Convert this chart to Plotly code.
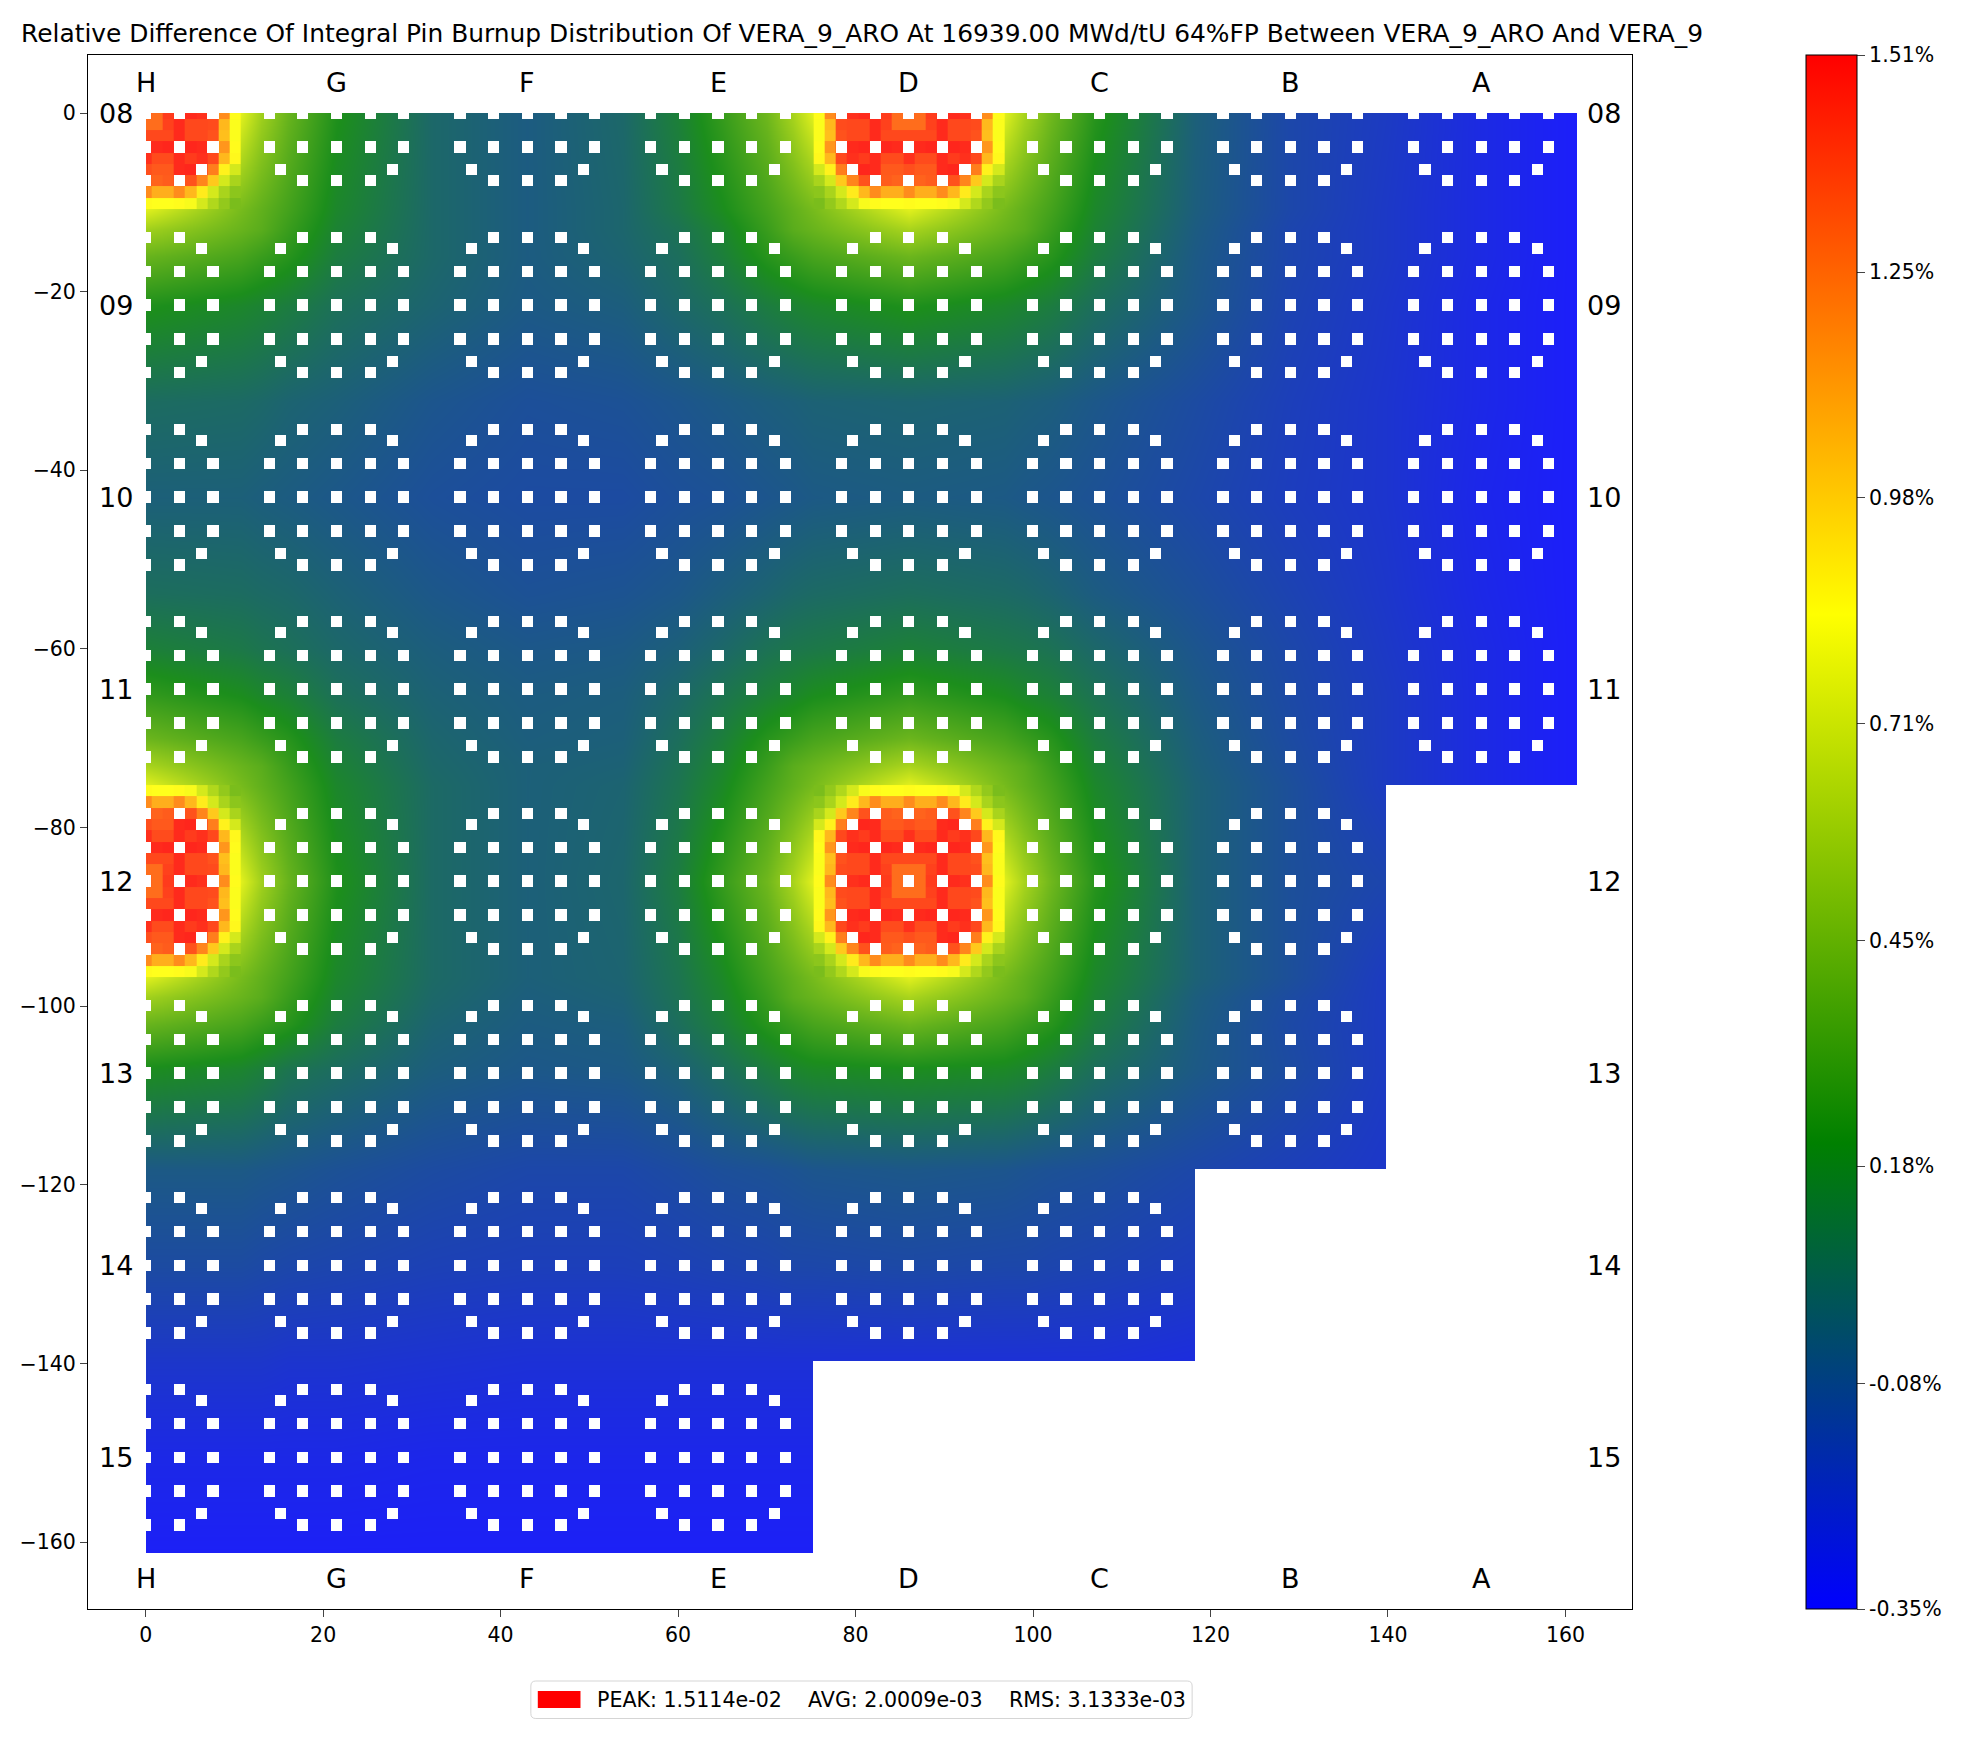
import numpy as np
import plotly.graph_objects as go

TITLE = "Relative Difference Of Integral Pin Burnup Distribution Of VERA_9_ARO At 16939.00 MWd/tU 64%FP Between VERA_9_ARO And VERA_9"
COLUMN_LABELS = ["H", "G", "F", "E", "D", "C", "B", "A"]
ROW_LABELS = ["08", "09", "10", "11", "12", "13", "14", "15"]
# how many assemblies wide the core is on each row
ROW_WIDTHS = [7.5, 7.5, 7.5, 7.5, 6.5, 6.5, 5.5, 3.5]
HOT_ASSEMBLIES = [(0, 0), (4, 0), (0, 4), (4, 4)]

CBAR_TICKS = [-0.35, -0.08, 0.18, 0.45, 0.71, 0.98, 1.25, 1.51]
CBAR_LABELS = ["-0.35%", "-0.08%", "0.18%", "0.45%", "0.71%", "0.98%", "1.25%", "1.51%"]

ASSEMBLY_PITCH = 21.5
PINS_PER_ASSEMBLY = 17
PIN_COUNT = 128

# guide tube offsets from an assembly centre, by row offset
GUIDE_TUBES = {
    -6: [-3, 0, 3],
    -5: [-5, 5],
    -3: [-6, -3, 0, 3, 6],
    0: [-6, -3, 0, 3, 6],
    3: [-6, -3, 0, 3, 6],
    5: [-5, 5],
    6: [-3, 0, 3],
}

# background field, percent
NODES = [0, 10.75, 13, 16, 21.5, 32.25, 43, 53.75, 60, 65, 70, 73, 75.25, 86, 96.75, 99, 102, 107, 118.25, 129, 139.75,
         150.5, 161.25]
FIELD = [
    [1.4, .76, .58, .42, .22, .02, -.04, .02, .14, .28, .44, .6, .76, 1.4, .76, .6, .44, .24, -.02, -.14, -.2, -.28, -.34],
    [.76, .46, .4, .32, .17, .02, -.04, .01, .1, .2, .32, .4, .46, .76, .46, .4, .32, .17, -.03, -.14, -.21, -.28, -.34],
    [.58, .42, .38, .29, .15, .02, -.04, .01, .07, .16, .29, .38, .42, .6, .42, .38, .29, .15, -.04, -.15, -.21, -.28, -.34],
    [.42, .33, .29, .24, .12, .02, -.04, 0, .05, .13, .24, .29, .33, .43, .33, .29, .24, .12, -.05, -.15, -.21, -.28, -.34],
    [.22, .17, .15, .12, .06, 0, -.05, -.03, .02, .06, .12, .15, .17, .22, .17, .15, .12, .05, -.06, -.16, -.22, -.29, -.34],
    [.04, .03, .02, 0, -.02, -.07, -.1, -.09, -.07, -.05, -.03, -.02, -.01, 0, -.01, -.02, -.03, -.06, -.12, -.18, -.23, -.29, -.34],
    [-.02, -.02, -.03, -.04, -.06, -.1, -.12, -.12, -.1, -.09, -.07, -.06, -.05, -.04, -.05, -.06, -.07, -.09, -.14, -.19, -.23, -.3, -.34],
    [.05, .04, .03, .02, -.01, -.06, -.09, -.08, -.06, -.03, 0, .02, .03, .05, .03, .02, 0, -.04, -.1, -.16, -.22, -.29, -.34],
    [.14, .1, .08, .06, .02, -.03, -.06, -.05, -.02, .02, .07, .09, .1, .14, .1, .09, .07, .02, -.07, -.14, -.21, -.28, -.34],
    [.27, .2, .17, .14, .06, -.01, -.04, -.03, .02, .08, .14, .17, .2, .27, .2, .17, .14, .07, -.05, -.13, -.2, -.28, -.34],
    [.43, .33, .29, .24, .12, .01, -.03, -.02, .05, .13, .24, .29, .33, .43, .33, .29, .24, .12, -.03, -.12, -.2, -.28, -.34],
    [.6, .42, .38, .29, .15, .02, -.02, -.01, .07, .16, .29, .38, .42, .6, .42, .38, .29, .15, -.02, -.11, -.2, -.28, -.34],
    [.76, .46, .4, .32, .17, .03, -.02, 0, .08, .18, .32, .4, .46, .76, .46, .4, .32, .17, -.01, -.1, -.2, -.28, -.34],
    [1.4, .76, .58, .42, .22, .03, -.02, .01, .12, .28, .44, .6, .76, 1.4, .76, .6, .44, .24, -.01, -.1, -.15, -.25, -.3],
    [.76, .46, .4, .32, .17, .03, -.02, 0, .08, .18, .32, .4, .46, .76, .46, .4, .32, .17, -.01, -.1, -.2, -.28, -.34],
    [.58, .42, .38, .29, .15, .02, -.03, -.01, .07, .16, .29, .38, .42, .6, .42, .38, .29, .15, -.03, -.12, -.2, -.28, -.34],
    [.42, .33, .29, .24, .12, .0, -.04, -.03, .05, .13, .24, .29, .33, .43, .33, .29, .24, .12, -.04, -.13, -.2, -.28, -.34],
    [.2, .16, .13, .08, .04, -.03, -.06, -.05, -.01, .05, .12, .16, .18, .2, .18, .16, .12, .05, -.05, -.12, -.2, -.28, -.34],
    [-.05, -.05, -.06, -.07, -.09, -.12, -.14, -.14, -.12, -.1, -.09, -.08, -.07, -.06, -.07, -.08, -.09, -.1, -.14, -.18, -.22, -.28, -.34],
    [-.12, -.12, -.13, -.14, -.15, -.17, -.18, -.18, -.17, -.16, -.15, -.14, -.14, -.13, -.14, -.14, -.15, -.16, -.19, -.22, -.25, -.28, -.34],
    [-.22, -.22, -.22, -.23, -.23, -.24, -.25, -.25, -.25, -.25, -.25, -.25, -.25, -.25, -.25, -.25, -.25, -.25, -.27, -.28, -.3, -.32, -.34],
    [-.29, -.29, -.29, -.29, -.29, -.3, -.3, -.3, -.3, -.3, -.3, -.3, -.3, -.3, -.3, -.3, -.3, -.3, -.31, -.32, -.32, -.33, -.34],
    [-.33, -.33, -.33, -.33, -.33, -.33, -.33, -.33, -.33, -.33, -.33, -.33, -.33, -.33, -.33, -.33, -.33, -.33, -.33, -.34, -.34, -.34, -.35],
]

# pin values of one quarter of a rodded assembly, centre at top left, percent
HOT_QUADRANT = [
    [1.30, 1.27, 1.42, 1.47, 1.47, 1.45, 1.40, 1.18, .85],
    [1.27, 1.27, 1.40, 1.47, 1.38, 1.38, 1.37, 1.05, .83],
    [1.38, 1.38, 1.38, 1.47, 1.38, 1.38, 1.35, 1.03, .83],
    [1.47, 1.47, 1.48, 1.47, 1.48, 1.47, 1.40, 1.15, .85],
    [1.45, 1.37, 1.37, 1.47, 1.42, 1.45, 1.38, 1.05, .86],
    [1.36, 1.33, 1.33, 1.47, 1.48, 1.40, 1.22, .88, .72],
    [1.32, 1.30, 1.32, 1.40, 1.35, 1.20, 1.00, .72, .60],
    [1.18, 1.08, 1.08, 1.18, 1.05, .90, .72, .60, .52],
    [.85, .84, .84, .85, .82, .72, .62, .54, .47],
]

COLOR_STOPS = [0, 0.3, 0.64, 1]
COLORS = [(0, 0, 255), (0, 128, 0), (255, 255, 0), (255, 0, 0)]
# the map itself is drawn slightly see-through on white, the colorbar is not
MAP_ALPHA = 0.89

PIN_PITCH = ASSEMBLY_PITCH / PINS_PER_ASSEMBLY
X_RANGE = [-6.5, 167.5]
Y_RANGE = [-167.5, 6.5]

# one page margin in the browser, all pixel positions below are of the whole page
PAGE_MARGIN = 8
FIG_W = 1962 - 2 * PAGE_MARGIN
FIG_H = 1758 - 2 * PAGE_MARGIN
AX_LEFT, AX_RIGHT, AX_TOP, AX_BOTTOM = 84, 1639, 55, 1609


def px_x(x):
    return (x - AX_LEFT) / (AX_RIGHT - AX_LEFT)


def px_y(y):
    return (AX_BOTTOM - y) / (AX_BOTTOM - AX_TOP)


def round_box(x0, y0, x1, y1, r):
    # rounded rectangle as a paper path, arguments in page pixels
    pts = [("M", x0 + r, y0), ("L", x1 - r, y0), ("Q", x1, y0, x1, y0 + r), ("L", x1, y1 - r), ("Q", x1, y1, x1 - r, y1),
           ("L", x0 + r, y1), ("Q", x0, y1, x0, y1 - r), ("L", x0, y0 + r), ("Q", x0, y0, x0 + r, y0)]
    path = ""
    for p in pts:
        coords = [f"{px_x(p[i])},{px_y(p[i + 1])}" for i in range(1, len(p), 2)]
        path += p[0] + " ".join(coords) + " "
    return path + "Z"


solid_scale = [[s, f"rgb{c}"] for s, c in zip(COLOR_STOPS, COLORS)]
pale_scale = [[s, "rgb({},{},{})".format(*[MAP_ALPHA * v + (1 - MAP_ALPHA) * 255 for v in c])]
              for s, c in zip(COLOR_STOPS, COLORS)]

# cells are centred on the pins but the picture stops at the first pin centre
edges = (np.arange(PIN_COUNT + 1) - 0.5) * PIN_PITCH
edges[0] = 0

hot = np.full((PIN_COUNT, PIN_COUNT), np.nan)
quadrant = np.array(HOT_QUADRANT)
half = quadrant.shape[0] - 1
block = np.block([[quadrant[:0:-1, :0:-1], quadrant[:0:-1, :]], [quadrant[:, :0:-1], quadrant]])
for col, row in HOT_ASSEMBLIES:
    cx, cy = col * PINS_PER_ASSEMBLY, row * PINS_PER_ASSEMBLY
    for j in range(-half, half + 1):
        for i in range(-half, half + 1):
            if cx + i >= 0 and cy + j >= 0:
                hot[cy + j, cx + i] = block[j + half, i + half]

# white layer: guide tube holes and everything outside the core
mask = np.full((PIN_COUNT, PIN_COUNT), np.nan)
for row, width in enumerate(ROW_WIDTHS):
    cy = row * PINS_PER_ASSEMBLY
    top = max(cy - 8, 0)
    mask[top:cy + 9, int((width - 0.5) * PINS_PER_ASSEMBLY) + 9:] = 1
    for col in range(int(np.ceil(width))):
        cx = col * PINS_PER_ASSEMBLY
        for dy, offsets in GUIDE_TUBES.items():
            for dx in offsets:
                if cx + dx >= 0 and cy + dy >= 0:
                    mask[cy + dy, cx + dx] = 1
# smoothing runs on past the outer nodes, so the white goes out to the frame
mask = np.pad(mask, 1, constant_values=1)
mask_x = np.concatenate([[X_RANGE[0]], edges, [X_RANGE[1]]])
mask_y = np.concatenate([[Y_RANGE[1]], -edges, [Y_RANGE[0]]])

fig = go.Figure()
fig.add_trace(go.Heatmap(x=NODES, y=[-v for v in NODES], z=FIELD, zmin=CBAR_TICKS[0], zmax=CBAR_TICKS[-1],
                         colorscale=pale_scale, showscale=False, zsmooth="best"))
fig.add_trace(go.Heatmap(x=edges, y=-edges, z=hot, zmin=CBAR_TICKS[0], zmax=CBAR_TICKS[-1], colorscale=pale_scale,
                         showscale=False))
fig.add_trace(go.Heatmap(x=mask_x, y=mask_y, z=mask, zmin=0, zmax=1, showscale=False,
                         colorscale=[[0, "white"], [1, "white"]], hoverinfo="skip"))
# only here for the colorbar
fig.add_trace(go.Scatter(x=[None], y=[None], mode="markers", showlegend=False,
                         marker=dict(color=[CBAR_TICKS[0]], coloraxis="coloraxis")))

annotations = []
for i, label in enumerate(COLUMN_LABELS):
    for y in (3.4, -164.1):
        annotations.append(dict(x=i * ASSEMBLY_PITCH, y=y, text=label, showarrow=False, font=dict(size=27)))
for i, label in enumerate(ROW_LABELS):
    for x in (-3.4, 164.4):
        annotations.append(dict(x=x, y=-i * ASSEMBLY_PITCH, text=label, showarrow=False, font=dict(size=27)))

# legend box
annotations.append(dict(xref="paper", yref="paper", x=px_x(595), y=px_y(1700), xanchor="left", yanchor="middle",
                        showarrow=False,
                        text="PEAK: 1.5114e-02\u00a0\u00a0\u00a0\u00a0AVG: 2.0009e-03\u00a0\u00a0\u00a0\u00a0RMS: 3.1333e-03",
                        font=dict(size=20.6)))
shapes = [
    dict(type="path", xref="paper", yref="paper", path=round_box(530, 1681, 1196, 1718.5, 5),
         line=dict(color="#d5d5d5", width=1), fillcolor="white", layer="below"),
    dict(type="rect", xref="paper", yref="paper", x0=px_x(537), x1=px_x(580), y0=px_y(1708), y1=px_y(1691),
         line=dict(width=0), fillcolor="red"),
]

fig.update_layout(
    width=FIG_W,
    height=FIG_H,
    margin=dict(l=AX_LEFT - PAGE_MARGIN, r=FIG_W - (AX_RIGHT - PAGE_MARGIN), t=AX_TOP - PAGE_MARGIN,
                b=FIG_H - (AX_BOTTOM - PAGE_MARGIN)),
    font=dict(family="DejaVu Sans", color="black", size=20.5),
    paper_bgcolor="white",
    plot_bgcolor="white",
    title=dict(text=TITLE, xref="container", yref="container", x=(21 - PAGE_MARGIN) / FIG_W,
               y=1 - (33 - PAGE_MARGIN) / FIG_H, xanchor="left", yanchor="middle", font=dict(size=24.9)),
    xaxis=dict(range=X_RANGE, tick0=0, dtick=20, ticks="outside", ticklen=7, showgrid=False, zeroline=False,
               showline=True, mirror=True, linecolor="black", linewidth=1),
    yaxis=dict(range=Y_RANGE, tick0=0, dtick=20, ticks="outside", ticklen=7, showgrid=False, zeroline=False,
               showline=True, mirror=True, linecolor="black", linewidth=1),
    coloraxis=dict(
        cmin=CBAR_TICKS[0],
        cmax=CBAR_TICKS[-1],
        colorscale=solid_scale,
        colorbar=dict(x=px_x(1814), xanchor="left", xpad=0, ypad=0, y=0.5, len=1, thickness=51, tickvals=CBAR_TICKS,
                      ticktext=CBAR_LABELS, ticks="outside", ticklen=8, outlinecolor="black", outlinewidth=1,
                      tickfont=dict(size=20.5)),
    ),
    annotations=annotations,
    shapes=shapes,
)

fig.write_html("out.html")
